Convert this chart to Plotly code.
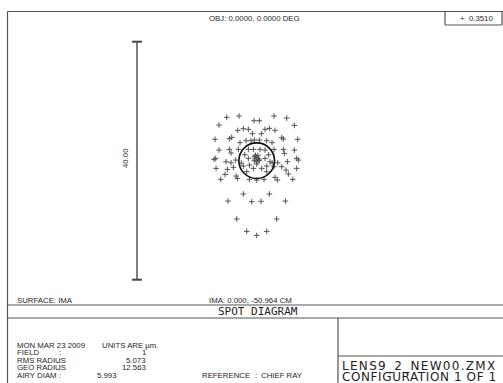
import plotly.graph_objects as go

# ---------------- data (micrometres, relative to chief ray) ----------------
spot_x = [-5.04, -2.97, -0.45, 0.45, 2.91, 5.04,
          -6.33, 6.33,
          -3.19, -2.24, -1.40, -0.73, 0.78, 1.40, 2.13, 3.08,
          -7.00, -4.59, -4.20, -2.80, -1.79, -0.95, -0.39, 0.45, 1.68, 2.58, 4.20, 4.48, 6.89,
          -6.33, -4.59, -4.31, -3.08, -1.40, -0.56, 0.56, 1.40, 2.91, 4.48, 4.65, 6.33,
          -7.17, -6.89, -5.15, -4.31, -3.53, -1.40, -0.39, 0.00, 0.45, 1.40, 2.24, 3.53, 5.15, 6.72, 7.00,
          -6.83, -4.93, -3.92, -2.24, -1.23, -0.56, 0.00, 0.84, 1.68, 2.91, 4.20, 4.93, 6.72,
          -6.05, -5.32, -3.47, -3.25, -1.23, 0.00, 1.23, 3.08, 3.47, 5.32, 6.05, -1.68, 1.68,
          -2.24, 2.13, -4.82, -0.84, 0.73, 4.82,
          -3.36, 3.36, -1.68, 0.00, 1.68,
          0.00, -0.30, 0.30, 0.00, -0.20, 0.20, 0.40, -0.40, 0.00,
          -2.00, 2.00, -2.60, 2.60]
spot_y = [7.28, 7.51, 6.72, 6.72, 7.51, 7.17,
          5.99, 5.94,
          5.10, 5.38, 5.27, 4.54, 4.54, 5.27, 5.43, 5.10,
          3.59, 3.70, 3.92, 3.03, 3.36, 3.36, 3.47, 3.47, 3.36, 3.03, 3.87, 3.64, 3.59,
          1.79, 1.90, 1.29, 1.90, 1.90, 1.90, 1.90, 1.79, 1.90, 1.90, 1.23, 1.79,
          0.22, 0.39, -0.17, -0.34, 0.11, 0.39, 0.67, 0.39, 0.11, 0.39, -0.17, -0.34, -0.17, 0.39, 0.11,
          -1.29, -1.46, -1.12, -0.90, -0.73, -1.29, -0.56, -1.29, -0.90, -1.01, -1.01, -1.57, -1.29,
          -3.14, -2.30, -2.58, -2.97, -3.14, -3.25, -3.14, -2.80, -3.25, -2.24, -3.14, -1.85, -1.85,
          -5.60, -5.60, -6.78, -6.89, -6.83, -6.78,
          -9.80, -9.80, -11.88, -12.55, -11.88,
          0.00, 0.30, 0.30, 0.60, 0.90, 0.90, 0.00, 0.00, -0.20,
          1.00, 1.00, -0.40, -0.40]

airy_diam = 5.993          # µm
scale_bar_len = 40.0       # µm
scale_bar_label = "40.00"

title_obj = "OBJ: 0.0000, 0.0000 DEG"
box_label = "+  0.3510"
surface_label = "SURFACE: IMA"
ima_label = "IMA: 0.000, -50.964 CM"
plot_title = "SPOT DIAGRAM"
date_line = "MON MAR 23 2009"
units_line = "UNITS ARE µm."
info_labels = ["FIELD", "RMS RADIUS", "GEO RADIUS", "AIRY DIAM"]
info_values = ["1", "5.073", "12.563", "5.993"]
reference_label = "REFERENCE"
reference_value = "CHIEF RAY"
file_name = "LENS9_2_NEW00.ZMX"
config_line = "CONFIGURATION 1 OF 1"

# ---------------- layout geometry ----------------
W, H = 503, 383
K = 5.95                    # pixels per µm
CX, CY = 256.7, 160.7       # pixel position of chief ray
BAR_X_PX = 137

def X(p):
    return p / W

def Y(p):
    return 1 - p / H

x_range = [-CX / K, (W - CX) / K]
y_range = [-(H - CY) / K, CY / K]
bar_x = (BAR_X_PX - CX) / K

INK = "#1e1e1e"
LINE = "#555555"
SMALL = dict(family="Liberation Sans, Arial, sans-serif", size=7.8, color=INK)
STROKE = dict(family="DejaVu Sans, sans-serif", size=12, color=INK)

fig = go.Figure()

# scale bar
fig.add_trace(go.Scatter(
    x=[bar_x, bar_x], y=[-scale_bar_len / 2, scale_bar_len / 2],
    mode="lines+markers",
    line=dict(color="#808080", width=2),
    marker=dict(symbol="line-ew", size=7, line=dict(color="#444", width=2)),
    hoverinfo="skip", showlegend=False))

# spots
fig.add_trace(go.Scatter(
    x=spot_x, y=spot_y, mode="markers",
    marker=dict(symbol="cross-thin", size=4, line=dict(color="#555555", width=1)),
    hoverinfo="skip", showlegend=False))

r = airy_diam / 2
shapes = [
    dict(type="circle", xref="x", yref="y", x0=-r, x1=r, y0=-r, y1=r,
         line=dict(color="#111", width=1.6)),
]

def hline(y, x0=7.5, x1=W, w=1.2):
    shapes.append(dict(type="line", xref="paper", yref="paper",
                       x0=X(x0), x1=X(x1), y0=Y(y), y1=Y(y),
                       line=dict(color=LINE, width=w)))

def vline(x, y0, y1, w=1.2):
    shapes.append(dict(type="line", xref="paper", yref="paper",
                       x0=X(x), x1=X(x), y0=Y(y0), y1=Y(y1),
                       line=dict(color=LINE, width=w)))

hline(11.5)
vline(7.5, 11.5, H)
vline(445, 11.5, 25)
hline(25, 445, 502)
vline(502, 11.5, 25)
hline(305)
hline(318)
vline(338, 318, H)
hline(356, 338, W)

ann = []

def text(x, y, s, font, xa="left", angle=0):
    ann.append(dict(x=X(x), y=Y(y), xref="paper", yref="paper", text=s,
                    showarrow=False, xanchor=xa, yanchor="middle",
                    font=font, textangle=angle))

text(254, 18, title_obj, SMALL, "center")
text(476, 18.5, box_label, SMALL, "center")
text(125, 158, scale_bar_label, SMALL, "center", -90)
text(15, 300, surface_label, SMALL)
text(250, 300, ima_label, SMALL, "center")
text(258, 311.5, plot_title, dict(family="DejaVu Sans Mono, monospace", size=11, color=INK), "center")

rows = [345, 352.5, 360, 367.5, 375.5]
text(15, rows[0], date_line, SMALL)
text(100, rows[0], units_line, SMALL)
for i, (lab, val) in enumerate(zip(info_labels, info_values)):
    yy = rows[i + 1]
    text(15, yy, lab, SMALL)
    text(57, yy, ":", SMALL)
    if i < 3:
        text(148, yy, val, SMALL, "right")
    else:
        text(95, yy, val, SMALL)
text(200, rows[4], reference_label, SMALL)
text(253, rows[4], ":", SMALL)
text(259, rows[4], reference_value, SMALL)

text(340, 366, '<span style="letter-spacing:1.3px">' + file_name + '</span>', STROKE)
text(340, 376.5, '<span style="letter-spacing:0.6px">' + config_line + '</span>', STROKE)

fig.update_layout(
    width=W, height=H,
    margin=dict(l=0, r=0, t=0, b=0),
    paper_bgcolor="white", plot_bgcolor="white",
    xaxis=dict(range=x_range, visible=False, fixedrange=True),
    yaxis=dict(range=y_range, visible=False, fixedrange=True),
    shapes=shapes, annotations=ann, showlegend=False,
)

fig.write_html("out.html", config={"displayModeBar": False},
               post_script="document.body.style.margin='0';document.body.style.overflow='hidden';")
